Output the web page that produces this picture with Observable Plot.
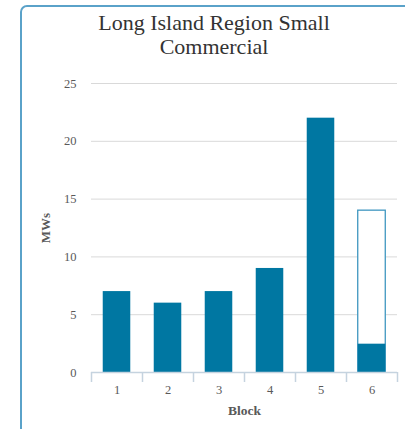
<!DOCTYPE html>
<html>
<head>
<meta charset="utf-8">
<script src="https://cdn.jsdelivr.net/npm/d3@7"></script>
<script src="https://cdn.jsdelivr.net/npm/@observablehq/plot@0.6"></script>
<style>
  html, body { margin: 0; padding: 0; background: #fff; overflow: hidden; }
  #wrap { position: relative; width: 405px; height: 429px; }
  #frame { position: absolute; left: 20px; top: 5px; width: 420px; height: 440px;
           border: 2px solid #5aa2c9; border-radius: 7px; box-sizing: border-box; pointer-events: none; z-index: 2; }
  #title { position: absolute; left: 20px; width: 388px; top: 11px; text-align: center;
           font-family: "Liberation Serif", "Times New Roman", serif; font-size: 22px; line-height: 24px; color: #333; z-index: 1; }
  #chart { position: absolute; left: 0; top: 0; }
</style>
</head>
<body>
<div id="wrap">
  <div id="chart"></div>
  <div id="title">Long Island Region Small<br>Commercial</div>
  <div id="frame"></div>
</div>
<script>
const blocks = [1, 2, 3, 4, 5, 6];
const filledMW = [7, 6, 7, 9, 22, 2.45];
const openBlocks = [6];
const openTotalMW = [14];
const yTicks = [0, 5, 10, 15, 20, 25];
const blockEdges = [0.5, 1.5, 2.5, 3.5, 4.5, 5.5, 6.5];

const bars = blocks.map((b, i) => ({block: b, mw: filledMW[i]}));
const openBars = openBlocks.map((b, i) => ({block: b, mw: openTotalMW[i]}));
const half = 0.27;

const plot = Plot.plot({
  width: 405,
  height: 429,
  marginTop: 83,
  marginBottom: 57,
  marginLeft: 91,
  marginRight: 8,
  style: {fontFamily: "'Liberation Serif', 'Times New Roman', serif", fontSize: "12.5px", color: "#595959", background: "transparent"},
  x: {type: "linear", domain: [0.5, 6.5]},
  y: {domain: [0, 25]},
  marks: [
    Plot.gridY(yTicks.filter(d => d > 0), {stroke: "#d9d9d9", strokeOpacity: 1, strokeWidth: 1}),
    Plot.axisY({ticks: yTicks, tickSize: 0, tickPadding: 15, label: null, fill: "#595959"}),
    Plot.rectY(openBars, {x1: d => d.block - half, x2: d => d.block + half, y1: 0, y2: "mw", fill: "white", stroke: "#3f97c0", strokeWidth: 1.3}),
    Plot.rectY(bars, {x1: d => d.block - half, x2: d => d.block + half, y1: 0, y2: "mw", fill: "#0077a2"}),
    Plot.ruleY([0], {stroke: "#c5d3df", strokeWidth: 1.5}),
    Plot.axisX({ticks: blockEdges, tickFormat: () => "", tickSize: 10, stroke: "#c5d3df", strokeWidth: 1.5, label: null}),
    Plot.axisX({ticks: blocks, tickSize: 0, tickPadding: 13, tickFormat: d => String(d), label: null, fill: "#595959"}),
    Plot.text(["MWs"], {frameAnchor: "left", textAnchor: "middle", rotate: -90, dx: -46, fontWeight: "bold", fontSize: 13, fill: "#595959"}),
    Plot.text(["Block"], {frameAnchor: "bottom", textAnchor: "middle", dy: 42, fontWeight: "bold", fontSize: 13.5, fill: "#595959"})
  ]
});
document.getElementById("chart").appendChild(plot);
</script>
</body>
</html>
